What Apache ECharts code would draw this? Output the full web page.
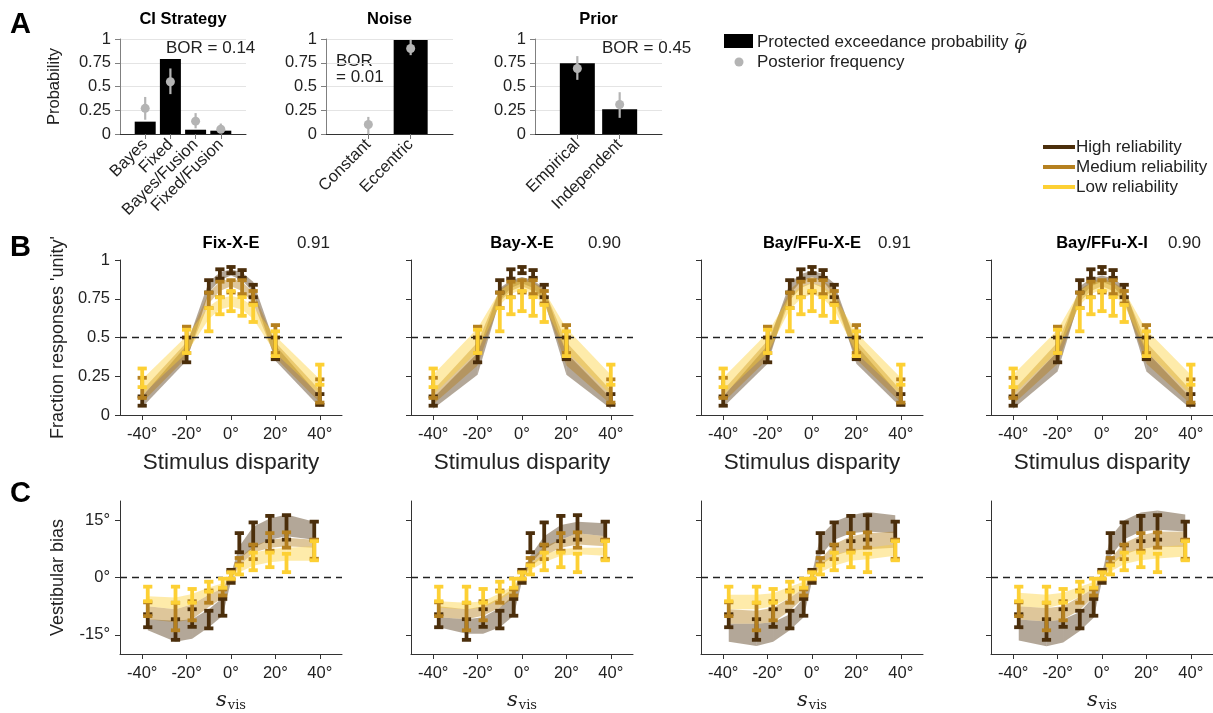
<!DOCTYPE html>
<html>
<head>
<meta charset="utf-8">
<script src="https://cdn.jsdelivr.net/npm/echarts@6/dist/echarts.min.js"></script>
<style>
  html, body { margin: 0; padding: 0; background: #fff; }
  #main { width: 1213px; height: 713px; }
</style>
</head>
<body>
<div id="main"></div>
<script>
// ---- panel A: model comparison ----
const ciCats = ['Bayes', 'Fixed', 'Bayes/Fusion', 'Fixed/Fusion'];
const ciPxp = [0.13, 0.79, 0.045, 0.035];
const ciFreq = [0.27, 0.55, 0.135, 0.05];
const ciFreqLo = [0.15, 0.42, 0.06, 0.01];
const ciFreqHi = [0.39, 0.69, 0.22, 0.11];

const noiseCats = ['Constant', 'Eccentric'];
const noisePxp = [0, 0.99];
const noiseFreq = [0.1, 0.9];
const noiseFreqLo = [0.0, 0.83];
const noiseFreqHi = [0.18, 0.99];

const priorCats = ['Empirical', 'Independent'];
const priorPxp = [0.745, 0.26];
const priorFreq = [0.69, 0.31];
const priorFreqLo = [0.57, 0.17];
const priorFreqHi = [0.82, 0.44];

const aTitles = ['CI Strategy', 'Noise', 'Prior'];

// ---- panel B: unity judgements ----
const dispX = [-40, -20, -10, -5, 0, 5, 10, 20, 40];
const unityHigh = [0.09, 0.42, 0.83, 0.91, 0.935, 0.91, 0.80, 0.43, 0.10];
const unityHighErr = [0.03, 0.08, 0.04, 0.03, 0.02, 0.025, 0.04, 0.07, 0.035];
const unityMed = [0.175, 0.485, 0.74, 0.81, 0.83, 0.825, 0.76, 0.49, 0.155];
const unityMedErr = [0.065, 0.085, 0.05, 0.05, 0.04, 0.045, 0.04, 0.09, 0.075];
const unityLow = [0.24, 0.475, 0.615, 0.705, 0.735, 0.70, 0.655, 0.46, 0.26];
const unityLowErr = [0.06, 0.075, 0.075, 0.055, 0.065, 0.06, 0.055, 0.08, 0.065];

const modelNames = ['Fix-X-E', 'Bay-X-E', 'Bay/FFu-X-E', 'Bay/FFu-X-I'];
const modelScores = ['0.91', '0.90', '0.91', '0.90'];

// model bands, rows: high lo, high hi, medium lo, medium hi, low lo, low hi
const unityFitFixXE = [
  [0.05, 0.35, 0.79, 0.87, 0.90, 0.87, 0.79, 0.35, 0.05],
  [0.12, 0.45, 0.86, 0.92, 0.94, 0.92, 0.86, 0.45, 0.12],
  [0.08, 0.37, 0.72, 0.80, 0.83, 0.80, 0.72, 0.37, 0.08],
  [0.16, 0.47, 0.79, 0.86, 0.88, 0.86, 0.79, 0.47, 0.16],
  [0.13, 0.40, 0.62, 0.68, 0.70, 0.68, 0.62, 0.40, 0.13],
  [0.23, 0.51, 0.70, 0.75, 0.77, 0.75, 0.70, 0.51, 0.23]
];
const unityFitBayXE = [
  [0.04, 0.26, 0.74, 0.82, 0.85, 0.82, 0.74, 0.26, 0.04],
  [0.11, 0.40, 0.82, 0.87, 0.89, 0.87, 0.82, 0.40, 0.11],
  [0.07, 0.32, 0.73, 0.80, 0.83, 0.80, 0.73, 0.32, 0.07],
  [0.16, 0.47, 0.81, 0.86, 0.88, 0.86, 0.81, 0.47, 0.16],
  [0.13, 0.41, 0.71, 0.78, 0.81, 0.78, 0.71, 0.41, 0.13],
  [0.26, 0.56, 0.80, 0.85, 0.87, 0.85, 0.80, 0.56, 0.26]
];
const unityFitBayFFuXE = [
  [0.05, 0.33, 0.78, 0.86, 0.89, 0.86, 0.78, 0.33, 0.05],
  [0.12, 0.45, 0.85, 0.91, 0.93, 0.91, 0.85, 0.45, 0.12],
  [0.08, 0.36, 0.74, 0.82, 0.85, 0.82, 0.74, 0.36, 0.08],
  [0.16, 0.48, 0.81, 0.87, 0.89, 0.87, 0.81, 0.48, 0.16],
  [0.13, 0.40, 0.68, 0.75, 0.78, 0.75, 0.68, 0.40, 0.13],
  [0.24, 0.53, 0.77, 0.83, 0.85, 0.83, 0.77, 0.53, 0.24]
];
const unityFitBayFFuXI = [
  [0.04, 0.28, 0.75, 0.83, 0.86, 0.83, 0.75, 0.28, 0.04],
  [0.11, 0.41, 0.83, 0.88, 0.90, 0.88, 0.83, 0.41, 0.11],
  [0.07, 0.33, 0.73, 0.80, 0.83, 0.80, 0.73, 0.33, 0.07],
  [0.16, 0.47, 0.81, 0.86, 0.88, 0.86, 0.81, 0.47, 0.16],
  [0.13, 0.41, 0.71, 0.78, 0.81, 0.78, 0.71, 0.41, 0.13],
  [0.26, 0.55, 0.80, 0.85, 0.87, 0.85, 0.80, 0.55, 0.26]
];

// ---- panel C: vestibular bias ----
const sVisX = [-37.5, -25, -17.5, -10, -3.75, 0, 3.75, 10, 17.5, 25, 37.5];
const biasHigh = [-11.3, -13.6, -10.6, -11.0, -7.8, 0.3, 9.1, 11.4, 12.8, 13.1, 12.2];
const biasHighErr = [1.7, 2.7, 2.3, 2.3, 2.2, 1.7, 2.5, 3.0, 3.3, 3.2, 2.4];
const biasMed = [-8.3, -10.2, -8.7, -5.0, -3.9, 0.5, 4.3, 6.7, 9.3, 9.8, 7.4];
const biasMedErr = [1.8, 3.6, 2.5, 1.6, 0.8, 1.0, 0.8, 1.9, 2.3, 2.0, 2.5];
const biasLow = [-4.3, -4.5, -4.8, -2.4, -1.5, 0.5, 2.0, 4.2, 4.6, 3.8, 7.0];
const biasLowErr = [1.9, 2.1, 1.8, 1.3, 1.2, 0.8, 1.2, 2.3, 1.9, 2.4, 2.5];

const biasFitFixXE = [
  [-13.8, -16.8, -16.0, -13.0, -10.0, -1.0, 4.8, 7.8, 9.9, 10.8, 9.9],
  [-10.9, -11.3, -10.9, -8.3, -5.3, 1.0, 8.2, 13.3, 15.4, 16.5, 14.6],
  [-10.9, -11.7, -10.9, -7.7, -5.3, -0.5, 3.1, 6.5, 7.8, 8.2, 7.8],
  [-7.5, -8.3, -7.0, -4.5, -2.8, 0.8, 5.1, 8.2, 9.9, 10.4, 9.9],
  [-7.5, -8.3, -7.0, -4.5, -2.8, -0.2, 1.4, 3.1, 4.0, 4.4, 4.4],
  [-4.9, -5.2, -4.3, -2.6, -1.5, 0.6, 3.1, 6.5, 7.4, 7.8, 8.2]
];
const biasFitBayXE = [
  [-13.0, -14.7, -14.7, -13.0, -10.0, -1.0, 3.6, 7.4, 9.9, 11.6, 10.8],
  [-10.4, -10.9, -10.4, -7.9, -4.5, 1.0, 5.7, 10.8, 13.7, 14.6, 14.2],
  [-10.4, -10.9, -10.0, -7.9, -5.3, -0.5, 2.7, 5.7, 7.8, 8.6, 8.2],
  [-7.5, -8.3, -7.5, -5.3, -2.8, 0.8, 4.4, 8.2, 9.9, 11.6, 10.8],
  [-7.9, -8.3, -7.9, -5.8, -3.6, -0.2, 1.9, 4.0, 5.7, 6.1, 5.7],
  [-6.2, -6.6, -6.2, -4.1, -2.0, 0.6, 3.6, 6.1, 7.4, 7.8, 7.8]
];
const biasFitBayFFuXE = [
  [-16.8, -17.9, -16.8, -13.8, -10.4, -1.0, 5.7, 9.9, 11.6, 12.0, 11.6],
  [-12.1, -12.1, -11.7, -9.6, -5.3, 1.0, 10.8, 14.6, 16.3, 17.1, 16.3],
  [-12.1, -12.1, -11.7, -8.7, -5.3, -0.5, 3.1, 5.7, 7.0, 7.4, 7.8],
  [-8.3, -8.7, -7.9, -5.3, -2.8, 0.8, 4.8, 8.7, 10.8, 11.6, 12.0],
  [-8.3, -8.3, -7.5, -5.3, -2.8, -0.2, 1.4, 3.1, 4.4, 4.8, 5.7],
  [-4.5, -4.5, -4.1, -2.4, -1.1, 0.6, 3.6, 6.1, 7.0, 7.8, 8.7]
];
const biasFitBayFFuXI = [
  [-16.5, -18.0, -17.0, -14.0, -10.5, -1.0, 5.5, 10.0, 12.0, 12.5, 12.0],
  [-11.0, -11.5, -11.0, -9.0, -5.0, 1.0, 10.5, 15.0, 17.0, 17.5, 16.5],
  [-11.0, -11.5, -11.0, -8.5, -5.0, -0.5, 3.0, 6.0, 7.5, 8.0, 8.0],
  [-7.5, -8.0, -7.5, -5.0, -2.8, 0.8, 5.0, 9.0, 11.0, 12.0, 12.0],
  [-7.5, -8.0, -7.0, -5.0, -2.8, -0.2, 1.5, 3.5, 4.5, 5.0, 5.5],
  [-4.0, -4.5, -4.0, -2.4, -1.2, 0.6, 3.8, 6.5, 7.5, 8.0, 8.5]
];

const degTicks = [-40, -20, 0, 20, 40];
const biasTicks = [-15, 0, 15];
const relNames = ['High reliability', 'Medium reliability', 'Low reliability'];

// ---- styling ----
const FONT = "'Liberation Sans', Arial, Helvetica, sans-serif";
const SERIF = "'DejaVu Serif', 'Liberation Serif', serif";
const INK = '#222';
const AXIS = '#333';
const relColors = ['#4b2e0b', '#b5801f', '#fdd034'];
const bandColors = ['rgba(75,46,10,0.42)', 'rgba(181,128,31,0.45)', 'rgba(252,208,52,0.42)'];
const freqColor = '#b4b4b4';

const aLefts = [120, 326, 535];
const aWidths = [126, 127, 127];
const bcLefts = [120, 411, 701, 991];

const chart = echarts.init(document.getElementById('main'));

const grids = [];
const xAxes = [];
const yAxes = [];
const series = [];

function bandSeries(ax, xs, lo, hi, fill, extra) {
  const data = xs.slice(0, -1).map((x, i) => [x, lo[i], hi[i], xs[i + 1], lo[i + 1], hi[i + 1]]);
  return Object.assign({
    type: 'custom', xAxisIndex: ax, yAxisIndex: ax, silent: true, z: 2,
    data: data,
    encode: { x: [0, 3], y: [1, 2, 4, 5] },
    renderItem: function (params, api) {
      return {
        type: 'polygon',
        shape: { points: [
          api.coord([api.value(0), api.value(1)]),
          api.coord([api.value(3), api.value(4)]),
          api.coord([api.value(3), api.value(5)]),
          api.coord([api.value(0), api.value(2)])
        ] },
        style: { fill: fill }
      };
    }
  }, extra || {});
}

function errSeries(ax, data, color, width, cap, z) {
  return {
    type: 'custom', xAxisIndex: ax, yAxisIndex: ax, silent: true, z: z,
    data: data,
    encode: { x: 0, y: [1, 2] },
    renderItem: function (params, api) {
      const lo = api.coord([api.value(0), api.value(1)]);
      const hi = api.coord([api.value(0), api.value(2)]);
      const s = { stroke: color, lineWidth: width };
      const kids = [{ type: 'line', shape: { x1: lo[0], y1: lo[1], x2: hi[0], y2: hi[1] }, style: s }];
      if (cap) {
        kids.push({ type: 'line', shape: { x1: lo[0] - cap, y1: lo[1], x2: lo[0] + cap, y2: lo[1] }, style: s });
        kids.push({ type: 'line', shape: { x1: hi[0] - cap, y1: hi[1], x2: hi[0] + cap, y2: hi[1] }, style: s });
      }
      return { type: 'group', children: kids };
    }
  };
}

// ---- panel A ----
const aSets = [
  [ciCats, ciPxp, ciFreq, ciFreqLo, ciFreqHi, 21],
  [noiseCats, noisePxp, noiseFreq, noiseFreqLo, noiseFreqHi, 34],
  [priorCats, priorPxp, priorFreq, priorFreqLo, priorFreqHi, 35]
];
aSets.forEach(function (set, i) {
  const cats = set[0];
  grids.push({ left: aLefts[i], top: 39, width: aWidths[i], height: 95 });
  xAxes.push({
    gridIndex: i, type: 'category', boundaryGap: false,
    data: [''].concat(cats, ['']),
    axisLine: { onZero: false, lineStyle: { color: AXIS, width: 1 } },
    axisTick: { length: 5, lineStyle: { color: '#777' }, interval: function (idx, v) { return v !== ''; } },
    axisLabel: { interval: 0, rotate: 45, margin: 8, fontSize: 16.5, fontFamily: FONT, color: INK },
    splitLine: { show: false }
  });
  yAxes.push({
    gridIndex: i, type: 'value', min: 0, max: 1, interval: 0.25,
    name: i === 0 ? 'Probability' : '', nameLocation: 'middle', nameGap: 57,
    nameTextStyle: { fontSize: 16.5, fontFamily: FONT, color: INK },
    axisLine: { show: true, onZero: false, lineStyle: { color: '#808080' } },
    axisTick: { show: true, length: 5, lineStyle: { color: '#808080' } },
    axisLabel: { fontSize: 16.5, fontFamily: FONT, color: INK, margin: 9 },
    splitLine: { show: true, lineStyle: { color: '#e4e4e4', width: 1 } }
  });
  series.push({
    type: 'bar', xAxisIndex: i, yAxisIndex: i, barWidth: set[5], silent: true,
    itemStyle: { color: '#000' },
    data: ['-'].concat(set[1], ['-'])
  });
  series.push(errSeries(i, cats.map((c, k) => [k + 1, set[3][k], set[4][k]]), freqColor, 2.2, 0, 3));
  series.push({
    type: 'scatter', xAxisIndex: i, yAxisIndex: i, silent: true, z: 4,
    symbolSize: 9, itemStyle: { color: freqColor, opacity: 1 },
    data: cats.map((c, k) => [k + 1, set[2][k]])
  });
});

// ---- panels B and C ----
const unityData = [[unityHigh, unityHighErr], [unityMed, unityMedErr], [unityLow, unityLowErr]];
const biasData = [[biasHigh, biasHighErr], [biasMed, biasMedErr], [biasLow, biasLowErr]];
const unityFits = [unityFitFixXE, unityFitBayXE, unityFitBayFFuXE, unityFitBayFFuXI];
const biasFits = [biasFitFixXE, biasFitBayXE, biasFitBayFFuXE, biasFitBayFFuXI];

function addRow(rowTop, rowHeight, xs, obs, fits, refY, yCfg, xName, xNameGap, xNameStyle) {
  bcLefts.forEach(function (left, g) {
    const ax = grids.length;
    grids.push({ left: left, top: rowTop, width: 222, height: rowHeight });
    xAxes.push({
      gridIndex: ax, type: 'value', min: -50, max: 50,
      name: xName, nameLocation: 'middle', nameGap: xNameGap, nameTextStyle: xNameStyle,
      axisLine: { onZero: false, lineStyle: { color: AXIS } },
      axisTick: { show: true, length: 5, customValues: degTicks, lineStyle: { color: AXIS } },
      axisLabel: { customValues: degTicks, formatter: '{value}°', fontSize: 16.5, fontFamily: FONT, color: INK, margin: 11 },
      splitLine: { show: false }
    });
    yAxes.push(Object.assign({
      gridIndex: ax, type: 'value',
      nameLocation: 'middle', nameGap: 53,
      nameTextStyle: { fontSize: 18, fontFamily: FONT, color: INK },
      axisLine: { show: true, onZero: false, lineStyle: { color: AXIS } },
      splitLine: { show: false }
    }, yCfg(g === 0)));
    const fit = fits[g];
    for (let r = 0; r < 3; r++) {
      const extra = r === 0 ? {
        markLine: {
          silent: true, symbol: 'none', label: { show: false },
          lineStyle: { color: '#222', type: [7, 5], width: 1.3 },
          data: [{ yAxis: refY }]
        }
      } : null;
      series.push(bandSeries(ax, xs, fit[2 * r], fit[2 * r + 1], bandColors[r], extra));
    }
    for (let r = 0; r < 3; r++) {
      const m = obs[r][0], e = obs[r][1];
      series.push(errSeries(ax, xs.map((x, k) => [x, m[k] - e[k], m[k] + e[k]]), relColors[r], 3.8, 4.6, 5 + r));
    }
  });
}

addRow(260, 155, dispX, unityData, unityFits, 0.5, function (first) {
  return {
    min: 0, max: 1, interval: 0.25,
    name: first ? "Fraction responses 'unity'" : '',
    axisTick: { show: true, length: 5, lineStyle: { color: AXIS } },
    axisLabel: { show: first, fontSize: 16.5, fontFamily: FONT, color: INK, margin: 10 }
  };
}, 'Stimulus disparity', 36, { fontSize: 22.5, fontFamily: FONT, color: INK });

addRow(501, 156, sVisX, biasData, biasFits, 0, function (first) {
  return {
    min: -20, max: 20,
    name: first ? 'Vestibular bias' : '',
    axisTick: { show: true, length: 5, customValues: biasTicks, lineStyle: { color: AXIS } },
    axisLabel: { show: first, customValues: biasTicks, formatter: '{value}°', fontSize: 16.5, fontFamily: FONT, color: INK, margin: 10 }
  };
}, '{s|s}{v|vis}', 35, {
  rich: {
    s: { fontFamily: SERIF, fontStyle: 'italic', fontSize: 21, color: INK, lineHeight: 24 },
    v: { fontFamily: SERIF, fontSize: 13, color: INK, lineHeight: 24, padding: [9, 0, 0, 1] }
  }
});

// ---- annotations and legends ----
const txt = (x, y, text, size, opts) => Object.assign({
  type: 'text', x: x, y: y, silent: true,
  style: Object.assign({ text: text, font: size + 'px ' + FONT, fill: INK, align: 'left', verticalAlign: 'middle' }, (opts || {}).style || {})
}, (opts || {}).el || {});

const elements = [
  txt(10, 25, 'A', 29, { style: { font: 'bold 29px ' + FONT, fill: '#000' } }),
  txt(10, 248, 'B', 29, { style: { font: 'bold 29px ' + FONT, fill: '#000' } }),
  txt(10, 494, 'C', 29, { style: { font: 'bold 29px ' + FONT, fill: '#000' } }),
  txt(166, 48, 'BOR = 0.14', 17),
  txt(336, 61, 'BOR', 17),
  txt(336, 77, '= 0.01', 17),
  txt(602, 48, 'BOR = 0.45', 17),
  { type: 'rect', silent: true, shape: { x: 724, y: 34, width: 29, height: 14 }, style: { fill: '#000' } },
  txt(757, 42, 'Protected exceedance probability', 17),
  txt(1014, 44, 'φ', 18, { style: { font: 'italic 18px ' + SERIF } }),
  txt(1015, 35, '~', 13, { style: { font: '13px ' + SERIF } }),
  { type: 'circle', silent: true, shape: { cx: 739, cy: 62, r: 4.5 }, style: { fill: freqColor } },
  txt(757, 62, 'Posterior frequency', 17)
];
aTitles.forEach(function (t, i) {
  elements.push(txt(aLefts[i] + aWidths[i] / 2, 19, t, 16.5, { style: { font: 'bold 16.5px ' + FONT, fill: '#000', align: 'center' } }));
});
modelNames.forEach(function (t, g) {
  elements.push(txt(bcLefts[g] + 111, 243, t, 16.5, { style: { font: 'bold 16.5px ' + FONT, fill: '#000', align: 'center' } }));
  elements.push(txt(bcLefts[g] + 210, 243, modelScores[g], 17, { style: { align: 'right' } }));
});
relNames.forEach(function (t, r) {
  const y = 147 + r * 20;
  elements.push({ type: 'line', silent: true, shape: { x1: 1043, y1: y, x2: 1075, y2: y }, style: { stroke: relColors[r], lineWidth: 4 } });
  elements.push(txt(1076, y, t, 17));
});

chart.setOption({
  animation: false,
  backgroundColor: '#fff',
  textStyle: { fontFamily: FONT },
  grid: grids,
  xAxis: xAxes,
  yAxis: yAxes,
  series: series,
  graphic: { elements: elements }
});
</script>
</body>
</html>
